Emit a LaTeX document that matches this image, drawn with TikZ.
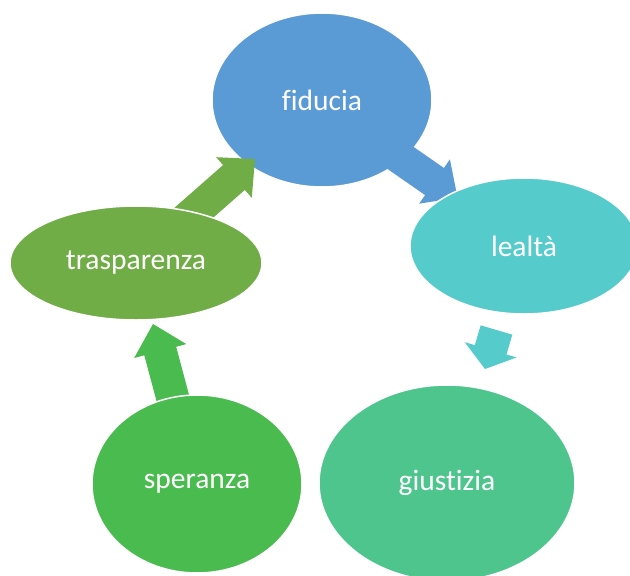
\documentclass[tikz,border=0pt]{standalone}
\usepackage{fontspec}
\setmainfont{Carlito}[Ligatures=NoCommon]
\usetikzlibrary{shapes.geometric,calc}
\definecolor{cfid}{HTML}{5B9BD5}
\definecolor{clea}{HTML}{55CBCC}
\definecolor{cgiu}{HTML}{4FC58E}
\definecolor{cspe}{HTML}{4ABB4F}
\definecolor{ctra}{HTML}{70AD47}
% #1 colour, #2 tail, #3 tip, #4 head length
\newcommand\blockarr[4]{%
  \coordinate (h) at ($(#3)!#4pt!(#2)$);
  \fill[#1] ($(#2)!16.5pt!90:(#3)$) -- ($(h)!16.5pt!90:(#3)$) -- ($(h)!27pt!90:(#3)$)
    -- (#3) -- ($(h)!27pt!-90:(#3)$) -- ($(h)!16.5pt!-90:(#3)$) -- ($(#2)!16.5pt!-90:(#3)$) -- cycle;}
\begin{document}
\begin{tikzpicture}[x=1pt,y=-1pt,
  bubble/.style={ellipse, draw=white, line width=1.5pt, inner sep=0pt, text=white,
    font=\fontsize{29.5}{35}\selectfont}]
\useasboundingbox (0,0) rectangle (630,576);
\clip (0,0) rectangle (630,576);
\fill[white] (0,0) rectangle (630,576);
\node[bubble, fill=cfid, minimum width=220pt, minimum height=174pt] (fiducia) at (322,100) {fiducia};
% connectors
\coordinate (a1s) at (385.5,147.5); \coordinate (a1e) at (457.5,197.5);
\coordinate (a2s) at (496.5,330);   \coordinate (a2e) at (485,369);
\coordinate (a4s) at (176,410);     \coordinate (a4e) at (153,324);
\coordinate (a5s) at (181,224);     \coordinate (a5e) at (255,159);
\blockarr{cfid}{a1s}{a1e}{28}
\blockarr{clea}{a2s}{a2e}{20}
\blockarr{cspe}{a4s}{a4e}{28}
\blockarr{ctra}{a5s}{a5e}{28}
\node[bubble, fill=clea, minimum width=228pt, minimum height=136pt] (lealta) at (524,246) {lealtà};
\node[bubble, fill=cgiu, minimum width=256pt, minimum height=196pt] (giustizia) at (447,483) {giustizia};
\node[bubble, fill=cspe, minimum width=210pt, minimum height=178pt] (speranza) at (197,484) {speranza};
\node[bubble, fill=ctra, minimum width=252pt, minimum height=114pt] (trasparenza) at (136,263) {trasparenza};
\end{tikzpicture}
\end{document}
